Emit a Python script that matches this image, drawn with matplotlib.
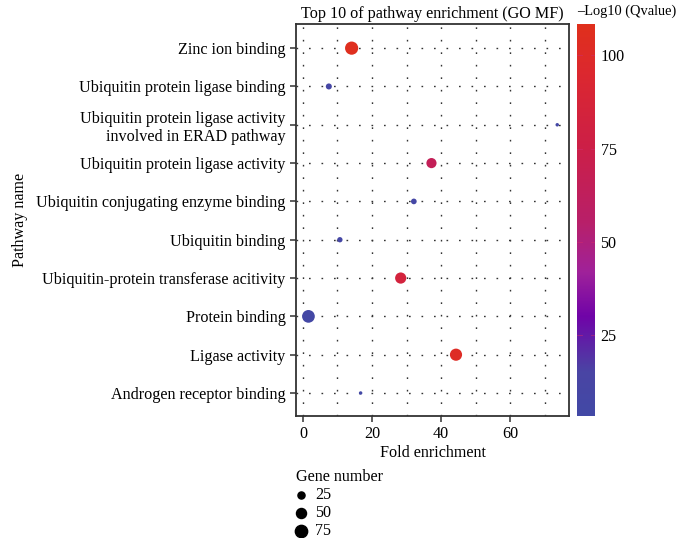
import numpy as np
import matplotlib
matplotlib.use("Agg")
import matplotlib.pyplot as plt
from matplotlib.colors import LinearSegmentedColormap, Normalize
from matplotlib.lines import Line2D

# data, top row first
pathways = [
    "Zinc ion binding",
    "Ubiquitin protein ligase binding",
    "Ubiquitin protein ligase activity\ninvolved in ERAD pathway",
    "Ubiquitin protein ligase activity",
    "Ubiquitin conjugating enzyme binding",
    "Ubiquitin binding",
    "Ubiquitin-protein transferase acitivity",
    "Protein binding",
    "Ligase activity",
    "Androgen receptor binding",
]
fold_enrichment = [14.1, 7.5, 73.6, 37.2, 32.1, 10.7, 28.3, 1.6, 44.3, 16.7]
neg_log10_q = [106, 9, 6, 66, 8, 8, 84, 7, 102, 5]
gene_number = [86, 18, 6, 51, 16, 14, 62, 80, 73, 6]

legend_sizes = [25, 50, 75]
VMIN, VMAX = 3.4, 108.4

plt.rcParams["font.family"] = ["Liberation Serif", "DejaVu Serif"]
FS = 11.6
plt.rcParams["font.size"] = FS

stops = [(3.4, "#4249a6"), (15, "#4a45a4"), (30, "#7004a8"), (42, "#a0229a"),
         (55, "#b8206a"), (75, "#cc1f48"), (95, "#dc2830"), (108.4, "#e0301c")]
cmap = LinearSegmentedColormap.from_list(
    "q", [((v - VMIN) / (VMAX - VMIN), c) for v, c in stops])
norm = Normalize(VMIN, VMAX)

def area(n):
    # marker area in pt^2, proportional to gene number
    return n * 1.05

fig = plt.figure(figsize=(6.86, 5.38), dpi=100)
ax = fig.add_axes([296 / 686, 1 - 416 / 538, 273 / 686, 392 / 538])
cax = fig.add_axes([577 / 686, 1 - 416 / 538, 18 / 686, 392 / 538])

n = len(pathways)
ypos = np.arange(n)[::-1] + 1

dots = (0, (1.2, 7.8))
for xv in range(0, 80, 10):
    ax.axvline(xv, color="#333333", lw=1.0, ls=dots, zorder=0)
for yv in ypos:
    ax.axhline(yv, color="#333333", lw=1.0, ls=dots, zorder=0)

ax.scatter(fold_enrichment, ypos, s=[area(g) for g in gene_number],
           c=neg_log10_q, cmap=cmap, norm=norm, linewidths=0, zorder=3)

ax.set_xlim(-2, 77)
ax.set_ylim(0.4, n + 0.63)
ax.set_xticks([0, 20, 40, 60])
ax.set_yticks(ypos)
ax.set_yticklabels(pathways, ha="right", multialignment="right")
ax.tick_params(axis="both", length=4.5, width=1.1, color="#333333",
               labelsize=FS, pad=3)
for sp in ax.spines.values():
    sp.set_color("#333333")
    sp.set_linewidth(1.3)
ax.set_xlabel("Fold enrichment", labelpad=2)
ax.set_ylabel("Pathway name", labelpad=6)
ax.set_title("Top 10 of pathway enrichment (GO MF)", fontsize=FS, pad=4)

# colour bar
grad = np.linspace(VMIN, VMAX, 256).reshape(-1, 1)
cax.imshow(grad, aspect="auto", cmap=cmap, norm=norm, origin="lower",
           extent=[0, 1, VMIN, VMAX])
cax.set_xticks([])
cax.yaxis.tick_right()
cax.set_yticks([25, 50, 75, 100])
cax.tick_params(axis="y", length=0, pad=4, labelsize=FS)
for t in [25, 50, 75, 100]:
    cax.plot([0, 0.25], [t, t], color="#d02a70", lw=0.6, alpha=0.6)
    cax.plot([0.75, 1], [t, t], color="#d02a70", lw=0.6, alpha=0.6)
for sp in cax.spines.values():
    sp.set_visible(False)
fig.text(577 / 686, 1 - 11 / 538, "\u2013Log10 (Qvalue)", ha="left", va="center",
         fontsize=10.4)

# size legend
fig.text(296 / 686, 1 - 477 / 538, "Gene number", ha="left", va="center",
         fontsize=FS)
for i, g in enumerate(legend_sizes):
    yy = 1 - (495 + 18 * i) / 538
    fig.add_artist(Line2D([301 / 686], [yy], marker="o", color="black",
                          markersize=np.sqrt(area(g)), lw=0,
                          transform=fig.transFigure))
    fig.text(315 / 686, yy, str(g), ha="left", va="center", fontsize=FS)

fig.savefig("out.png", dpi=100)
